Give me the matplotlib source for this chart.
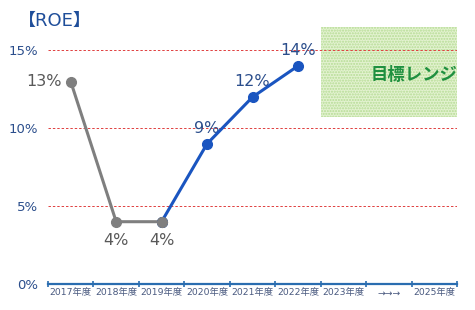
import matplotlib.pyplot as plt
import numpy as np

plt.rcParams['font.family'] = ['DejaVu Sans', 'Noto Sans CJK JP']

categories = ['2017年度', '2018年度', '2019年度', '2020年度', '2021年度',
              '2022年度', '2023年度', '→→→', '2025年度']
gray_idx = [0, 1, 2]
gray_roe = [13, 4, 4]
blue_idx = [2, 3, 4, 5]
blue_roe = [4, 9, 12, 14]
yticks = [0, 5, 10, 15]
target_low, target_high = 10.7, 16.5

fig = plt.figure(figsize=(4.75, 3.1), dpi=100)
ax = fig.add_axes([48/475, 26/310, 409/475, 257/310])

ax.set_xlim(-0.5, 8.5)
ax.set_ylim(0, 16.5)

# target range box
ax.add_patch(plt.Rectangle((5.5, target_low), 3, target_high - target_low,
                           facecolor='#e3f2d0', edgecolor='#b5dc94', hatch='......',
                           linewidth=0, zorder=1))
ax.text(7.55, 13.4, '目標レンジ', color='#1f9040', fontsize=12.5, fontweight='bold',
        ha='center', va='center', zorder=3, family=['Noto Sans CJK JP'])

for y in [5, 10, 15]:
    ax.axhline(y, color='#e04040', lw=0.7, ls=(0, (2.5, 2)), zorder=2)

ax.plot(gray_idx, gray_roe, color='#7f7f7f', lw=2.2, marker='o', ms=7, zorder=4)
ax.plot(blue_idx, blue_roe, color='#1a55c0', lw=2.2, marker='o', ms=7, zorder=5)
ax.plot(blue_idx[0], blue_roe[0], 'o', color='#7f7f7f', ms=7, zorder=6)

lab_g = '#595959'
lab_b = '#2b4e8c'
ax.text(gray_idx[0] - 0.2, gray_roe[0], f'{gray_roe[0]}%', color=lab_g, fontsize=11.5,
        ha='right', va='center')
for i, v in zip(gray_idx[1:], gray_roe[1:]):
    ax.text(i, v - 0.7, f'{v}%', color=lab_g, fontsize=11.5, ha='center', va='top')
for i, v in zip(blue_idx[1:], blue_roe[1:]):
    ax.text(i, v + 0.5, f'{v}%', color=lab_b, fontsize=11.5, ha='center', va='bottom')

ax.set_yticks(yticks)
ax.set_yticklabels([f'{y}%' for y in yticks], color='#2b4e8c', fontsize=9.5)
ax.tick_params(axis='y', length=0, pad=7)

ax.set_xticks(range(len(categories)))
ax.set_xticklabels(categories, fontsize=6.7, color='#4a5a80')
ax.tick_params(axis='x', length=0, pad=3)
ax.set_xticks(np.arange(-0.5, 9, 1), minor=True)
ax.tick_params(axis='x', which='minor', length=5, direction='inout', color='#2a6db0', width=1.2)

for s in ['top', 'right', 'left']:
    ax.spines[s].set_visible(False)
ax.spines['bottom'].set_color('#2a6db0')
ax.spines['bottom'].set_linewidth(1.6)

fig.text(18/475, 1 - 21/310, '【ROE】', color='#1f4e9a', fontsize=13, va='center', ha='left')

fig.savefig('out.png', dpi=100)
